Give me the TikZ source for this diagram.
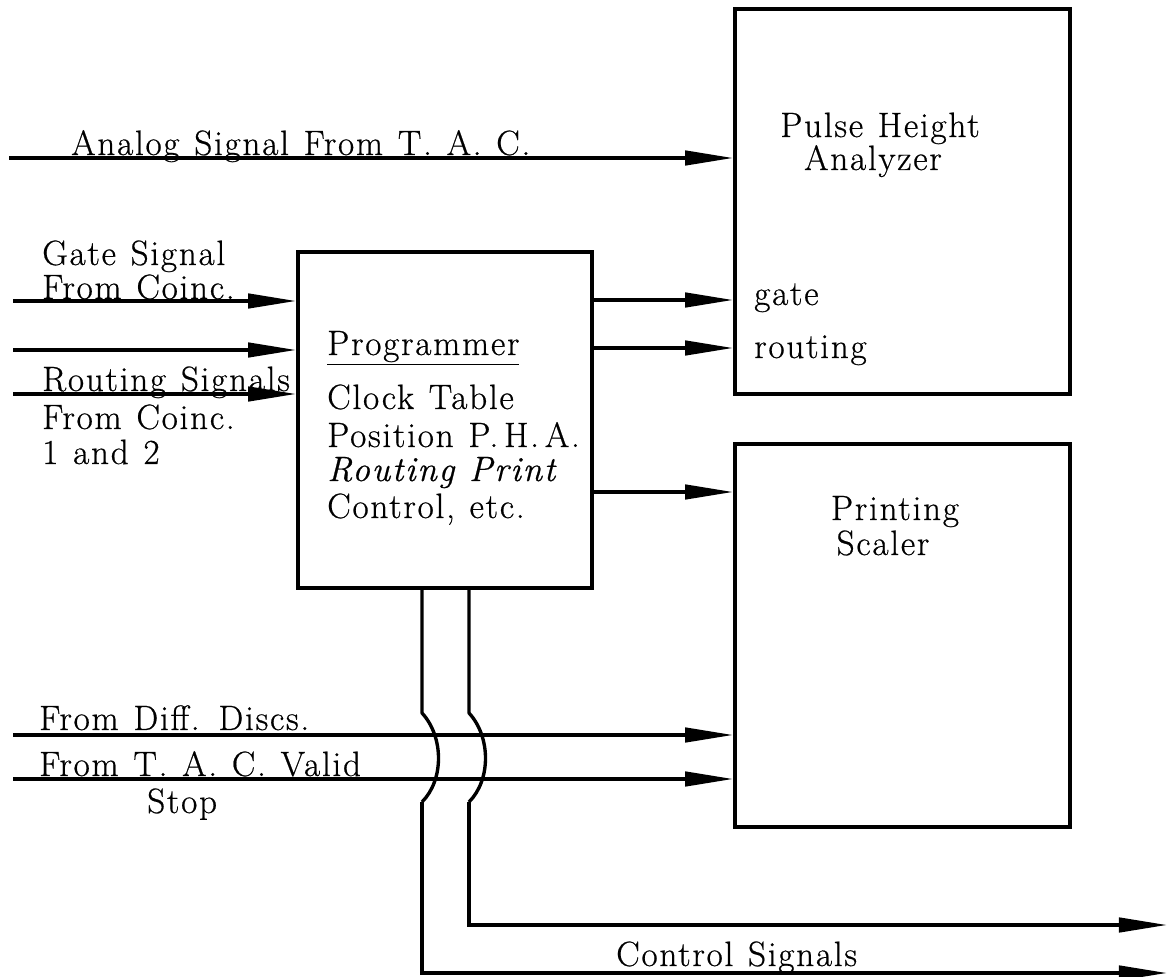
\documentclass[tikz,border=0pt]{standalone}
\usepackage{fontspec}
\setmainfont{Latin Modern Roman}[LetterSpace=5,FakeBold=0.6]
\usepackage{tikz}
\usetikzlibrary{arrows.meta}
\newcommand\lblfont{\fontsize{25}{30}\selectfont\spaceskip=0.42em\relax}

\begin{document}
\begin{tikzpicture}[x=0.025cm,y=-0.025cm,
  box/.style={draw,line width=2.6pt,inner sep=0pt},
  sig/.style={line width=2.4pt,-{Triangle[length=1.2cm,width=0.36cm]}},
  wire/.style={line width=2.4pt,line join=round},
  lbl/.style={anchor=base west,inner sep=0pt,font=\lblfont},
  clbl/.style={lbl,anchor=base}]
\useasboundingbox (0,0) rectangle (1167,977);
% boxes
\node[box,minimum width=8.375cm,minimum height=9.625cm] (pha) at (902.5,201.5) {};
\node[box,minimum width=8.375cm,minimum height=9.575cm] (scaler) at (902.5,635.5) {};
\node[box,minimum width=7.35cm,minimum height=8.4cm] (prog) at (445,420) {};
% box texts
\node[clbl] (pha1) at (880,137) {Pulse Height};
\node[clbl] (pha2) at (873,170) {Analyzer};
\node[lbl] (pgate) at (754,305) {gate};
\node[lbl] (prout) at (754,358) {routing};
\node[clbl] (sc1) at (895,520) {Printing};
\node[clbl] (sc2) at (883,555) {Scaler};
\node[lbl] (pg0) at (327,355) {\underline{Programmer}};
\node[lbl] (pg1) at (327,409) {Clock Table};
\node[lbl] (pg2) at (327,447) {Position P.\,H.\,A.};
\node[lbl] (pg3) at (327,481) {\textit{Routing Print}};
\node[lbl] (pg4) at (327,518) {Control, etc.};
% inputs
\coordinate (ana) at (9,158);
\draw[sig] (ana) -- (ana -| pha.west);
\node[lbl] (anal) at (71,155) {Analog Signal From T. A. C.};
\foreach \y/\n in {301/g1,350/g2,394/g3} {\coordinate (\n) at (13,\y);\draw[sig] (\n) -- (\n -| prog.west);}
\node[lbl] (gl1) at (42,265) {Gate Signal};
\node[lbl] (gl2) at (42,299) {From Coinc.};
\node[lbl] (rl1) at (42,391) {Routing Signals};
\node[lbl] (rl2) at (42,429) {From Coinc.};
\node[lbl] (rl3) at (42,464) {1 and 2};
% programmer outputs
\foreach \y/\n in {300/o1,348/o2} {\coordinate (\n) at (650,\y);\draw[sig] (\n -| prog.east) -- (\n -| pha.west);}
\coordinate (o3) at (650,492);
\draw[sig] (o3 -| prog.east) -- (o3 -| scaler.west);
% scaler inputs
\foreach \y/\n in {735/d1,779/d2} {\coordinate (\n) at (13,\y);\draw[sig] (\n) -- (\n -| scaler.west);}
\node[lbl] (dl1) at (39,730) {From Diff. Discs.};
\node[lbl] (dl2) at (39,776) {From T. A. C. Valid};
\node[lbl] (dl3) at (147,813) {Stop};
% control wires
\coordinate (k1) at (422,713); \coordinate (k2) at (422,802); \coordinate (c1) at (1167,973);
\coordinate (k3) at (469,713); \coordinate (k4) at (469,802); \coordinate (c2) at (1167,925);
\draw[wire] (prog.south -| k1) -- (k1) .. controls (444,737) and (444,780) .. (k2);
\draw[sig] (k2) |- (c1);
\draw[wire] (prog.south -| k3) -- (k3) .. controls (491,737) and (491,780) .. (k4);
\draw[sig] (k4) |- (c2);
\node[lbl] (ctl) at (616,966) {Control Signals};
\end{tikzpicture}
\end{document}
